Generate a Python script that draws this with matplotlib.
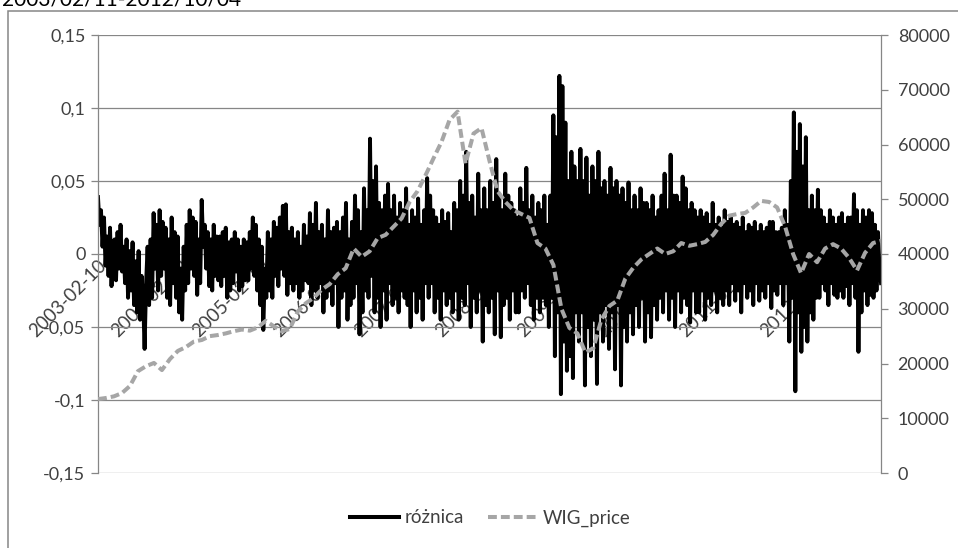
import matplotlib
matplotlib.use('Agg')
import matplotlib.pyplot as plt
import matplotlib.dates as mdates
import pandas as pd
from matplotlib.patches import Rectangle
from matplotlib.lines import Line2D
from matplotlib.ticker import FixedLocator

plt.rcParams['font.family'] = ['Lato', 'DejaVu Sans']

# ---------------- data ----------------
title_text = "2003/02/11-2012/10/04"
start_date = "2003-02-10"
end_date = "2012-10-04"

roznica = [
    0.039, 0.020, 0.030, 0.005, 0.025, -0.008, 0.012, -0.015, 0.018, -0.022, 0.008, 0.010, -0.018, 0.015, -0.010, 0.020, -0.012, 0.005, -0.020, 0.010,
    -0.030, 0.002, -0.025, 0.008, -0.035, -0.005, -0.040, 0.002, -0.045, -0.015, -0.030, -0.065, -0.020, 0.005, -0.035, 0.010, -0.030, 0.028, -0.010, 0.020,
    -0.025, 0.030, -0.015, 0.022, -0.010, 0.018, -0.030, 0.010, -0.035, 0.025, -0.020, 0.015, -0.030, 0.012, -0.040, -0.010, -0.045, 0.005, -0.025, 0.020,
    -0.020, 0.030, -0.010, 0.025, -0.015, 0.022, -0.028, 0.010, -0.020, 0.037, 0.005, 0.020, -0.010, 0.015, -0.022, 0.010, -0.025, 0.020, -0.015, 0.012,
    -0.018, 0.012, -0.022, 0.015, -0.015, 0.018, -0.030, 0.008, -0.025, 0.010, -0.020, 0.015, -0.012, 0.010, -0.025, 0.005, -0.022, 0.010, -0.018, 0.008,
    -0.018, 0.015, -0.010, 0.025, -0.015, 0.020, -0.025, 0.010, -0.035, 0.005, -0.052, -0.010, -0.030, 0.015, -0.025, 0.010, -0.030, 0.022, -0.015, 0.018,
    -0.022, 0.025, -0.010, 0.033, -0.015, 0.034, -0.028, 0.015, -0.020, 0.018, -0.025, 0.010, -0.020, 0.015, -0.030, 0.005, -0.025, 0.020, -0.018, 0.012,
    -0.020, 0.028, -0.035, 0.020, -0.025, 0.035, -0.030, 0.015, -0.020, 0.020, -0.040, 0.010, -0.030, 0.030, -0.025, 0.015, -0.035, 0.018, -0.020, 0.022,
    -0.050, 0.015, -0.030, 0.025, -0.025, 0.035, -0.045, 0.010, -0.035, 0.022, -0.030, 0.040, -0.020, 0.030, -0.055, 0.015, -0.040, 0.045, -0.025, 0.030,
    -0.030, 0.079, -0.015, 0.050, -0.040, 0.060, -0.030, 0.035, -0.050, 0.030, -0.025, 0.040, -0.045, 0.048, -0.020, 0.030, -0.035, 0.040, -0.030, 0.025,
    -0.040, 0.035, -0.025, 0.030, -0.030, 0.045, -0.035, 0.020, -0.050, 0.030, -0.025, 0.025, -0.040, 0.038, -0.030, 0.020, -0.045, 0.030, -0.020, 0.052,
    -0.030, 0.040, -0.020, 0.030, -0.040, 0.025, -0.030, 0.020, -0.045, 0.030, -0.025, 0.022, -0.035, 0.028, -0.030, 0.015, -0.040, 0.035, -0.025, 0.030,
    -0.045, 0.050, -0.030, 0.040, -0.035, 0.070, -0.020, 0.035, -0.050, 0.040, -0.030, 0.025, -0.040, 0.055, -0.025, 0.030, -0.060, 0.045, -0.035, 0.030,
    -0.040, 0.050, -0.030, 0.035, -0.055, 0.065, -0.025, 0.040, -0.057, 0.030, -0.035, 0.055, -0.030, 0.040, -0.045, 0.035, -0.025, 0.030, -0.040, 0.025,
    -0.040, 0.045, -0.025, 0.035, -0.030, 0.059, -0.020, 0.030, -0.035, 0.040, -0.045, 0.025, -0.030, 0.035, -0.040, 0.030, -0.030, 0.040, -0.035, 0.020,
    -0.050, 0.040, -0.030, 0.095, -0.070, 0.080, -0.040, 0.122, -0.096, 0.115, -0.060, 0.090, -0.080, 0.050, -0.070, 0.070, -0.085, 0.060, -0.040, 0.050,
    -0.060, 0.072, -0.040, 0.050, -0.090, 0.066, -0.050, 0.040, -0.070, 0.060, -0.045, 0.050, -0.089, 0.070, -0.040, 0.045, -0.060, 0.050, -0.035, 0.040,
    -0.065, 0.059, -0.040, 0.045, -0.079, 0.050, -0.035, 0.040, -0.090, 0.045, -0.050, 0.035, -0.060, 0.049, -0.040, 0.030, -0.055, 0.040, -0.035, 0.030,
    -0.050, 0.045, -0.030, 0.035, -0.060, 0.035, -0.040, 0.030, -0.057, 0.040, -0.035, 0.025, -0.045, 0.030, -0.030, 0.040, -0.040, 0.055, -0.025, 0.030,
    -0.045, 0.068, -0.030, 0.040, -0.050, 0.040, -0.025, 0.035, -0.040, 0.053, -0.030, 0.045, -0.035, 0.030, -0.047, 0.035, -0.025, 0.030, -0.040, 0.025,
    -0.040, 0.030, -0.025, 0.025, -0.045, 0.028, -0.030, 0.020, -0.035, 0.035, -0.025, 0.020, -0.040, 0.025, -0.030, 0.018, -0.035, 0.030, -0.025, 0.022,
    -0.035, 0.025, -0.020, 0.020, -0.032, 0.022, -0.025, 0.018, -0.040, 0.025, -0.020, 0.015, -0.030, 0.020, -0.025, 0.018, -0.035, 0.022, -0.020, 0.015,
    -0.032, 0.020, -0.025, 0.015, -0.030, 0.018, -0.020, 0.022, -0.037, 0.022, -0.025, 0.015, -0.028, 0.015, -0.020, 0.018, -0.035, 0.030, -0.020, 0.020,
    -0.060, 0.050, -0.030, 0.097, -0.094, 0.070, -0.040, 0.089, -0.067, 0.060, -0.050, 0.080, -0.060, 0.030, -0.040, 0.040, -0.045, 0.030, -0.030, 0.044,
    -0.030, 0.030, -0.020, 0.025, -0.025, 0.020, -0.035, 0.030, -0.020, 0.025, -0.028, 0.020, -0.030, 0.025, -0.025, 0.028, -0.030, 0.020, -0.022, 0.025,
    -0.035, 0.025, -0.020, 0.041, -0.030, 0.030, -0.067, 0.020, -0.040, 0.030, -0.025, 0.025, -0.035, 0.030, -0.028, 0.028, -0.030, 0.020, -0.025, 0.015, -0.010, -0.020,
]

wig_price = [
    13500, 13700, 14000, 14600, 15900, 18600, 19500, 20100, 18800, 20800,
    22300, 23000, 24000, 24300, 25000, 25200, 25500, 25900, 26200, 26000,
    26600, 27800, 26800, 25900, 26300, 29500, 31000, 32000, 33500, 34500,
    36300, 37400, 41000, 39500, 40500, 42900, 43500, 45000, 46500, 49500,
    51500, 54400, 57500, 60500, 64500, 66000, 56500, 62000, 63000, 57000,
    51500, 49500, 48000, 47300, 46600, 42000, 41000, 38000, 30000, 26500,
    25500, 22000, 22800, 28000, 30500, 31500, 35500, 37500, 39000, 40000,
    41000, 40000, 40500, 42000, 41500, 41800, 42200, 43500, 45500, 47000,
    47300, 47500, 48500, 49700, 49500, 48500, 45000, 40000, 36500, 40000,
    38500, 41000, 41800, 41000, 39300, 37000, 40200, 42000, 42400,
]

x_tick_dates = ["2003-02-10", "2004-02-10", "2005-02-10", "2006-02-10", "2007-02-10",
                "2008-02-10", "2009-02-10", "2010-02-10", "2011-02-10", "2012-02-10"]
left_ticks = [-0.15, -0.1, -0.05, 0, 0.05, 0.1, 0.15]
left_labels = ["-0,15", "-0,1", "-0,05", "0", "0,05", "0,1", "0,15"]
right_ticks = [0, 10000, 20000, 30000, 40000, 50000, 60000, 70000, 80000]
right_labels = ["0", "10000", "20000", "30000", "40000", "50000", "60000", "70000", "80000"]
series_names = ["różnica", "WIG_price"]

# ---------------- figure ----------------
W, H = 958, 548
fig = plt.figure(figsize=(W / 100, H / 100), dpi=100)
fig.patch.set_facecolor('white')

GRID = '#868686'
TXT = '#404040'
FS = 13

# outer chart frame (cropped at right/bottom, as in the reference)
fig.patches.append(Rectangle((8 / W, -0.05), 1.2, 1 - 11 / H + 0.05,
                             transform=fig.transFigure, fill=False,
                             edgecolor=GRID, lw=1.1, zorder=0))
fig.text(2 / W, 1 - 5 / H, title_text, fontsize=15, color='black', va='baseline', ha='left')

ax = fig.add_axes([98 / W, 1 - 473 / H, (881 - 98) / W, (473 - 35) / H])
ax.patch.set_alpha(0)
ax2 = ax.twinx()

d_r = pd.date_range(start_date, end_date, periods=len(roznica))
d_w = pd.date_range(start_date, end_date, periods=len(wig_price))

ax.plot(d_r, roznica, color='black', lw=2.8, zorder=2)
ax2.plot(d_w, wig_price, color='#A6A6A6', lw=2.9, dashes=(2.2, 1.0), zorder=2)

ax.set_xlim(pd.Timestamp(start_date), pd.Timestamp(end_date))
ax.set_ylim(-0.15, 0.15)
ax2.set_ylim(0, 80000)

ax.yaxis.set_major_locator(FixedLocator(left_ticks))
ax.set_yticklabels(left_labels)
ax2.yaxis.set_major_locator(FixedLocator(right_ticks))
ax2.set_yticklabels(right_labels)

ax.set_axisbelow(True)
ax.grid(axis='y', color=GRID, lw=0.9)
ax.grid(axis='x', visible=False)

for s in ['top', 'right', 'bottom']:
    ax.spines[s].set_visible(False)
ax.spines['left'].set_color(GRID)
ax.spines['left'].set_linewidth(0.9)
for s in ['top', 'left', 'bottom']:
    ax2.spines[s].set_visible(False)
ax2.spines['right'].set_color(GRID)
ax2.spines['right'].set_linewidth(0.9)

ax.spines['bottom'].set_position(('data', 0))
xt = mdates.date2num(pd.to_datetime(x_tick_dates))
ax.xaxis.set_major_locator(FixedLocator(xt))
ax.set_xticklabels(x_tick_dates)
ax.tick_params(axis='x', length=0, pad=2, labelsize=13.5, labelcolor=TXT)
for lbl in ax.get_xticklabels():
    lbl.set_rotation(45)
    lbl.set_ha('right')
    lbl.set_va('top')
    lbl.set_rotation_mode('anchor')

ax.tick_params(axis='y', length=5, width=0.9, color=GRID, labelcolor=TXT,
               labelsize=FS, pad=4)
ax2.tick_params(axis='y', length=5, width=0.9, color=GRID, labelcolor=TXT,
                labelsize=FS, pad=7)

handles = [Line2D([], [], color='black', lw=2.9),
           Line2D([], [], color='#A6A6A6', lw=2.9, dashes=(2.2, 1.0))]
fig.legend(handles, series_names, loc='center', bbox_to_anchor=(490 / W, 1 - 518 / H),
           ncol=2, frameon=False, handlelength=2.6, handletextpad=0.3,
           columnspacing=1.3, fontsize=13.5, labelcolor=TXT)

fig.savefig('out.png', dpi=100)
